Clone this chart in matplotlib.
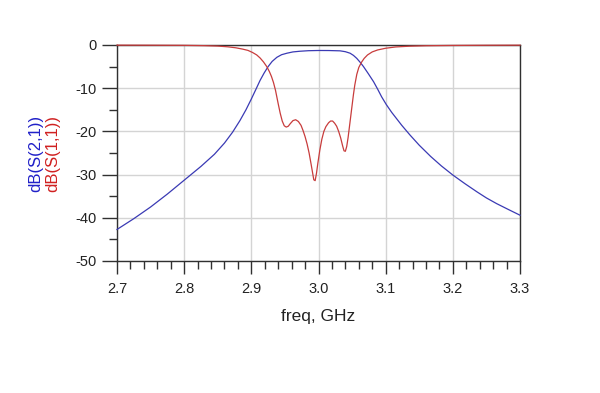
import matplotlib
matplotlib.use("Agg")
import matplotlib.pyplot as plt
from matplotlib.ticker import MultipleLocator

plt.rcParams['font.family'] = ['Liberation Sans', 'DejaVu Sans']

# S21 (blue)
freq_s21 = [2.700, 2.725, 2.750, 2.775, 2.800, 2.825, 2.845, 2.860, 2.872, 2.883,
            2.892, 2.900, 2.907, 2.913, 2.919, 2.925, 2.931, 2.938, 2.945, 2.953,
            2.962, 2.972, 2.985, 3.000, 3.015, 3.032, 3.040, 3.047, 3.052, 3.057,
            3.062, 3.067, 3.074, 3.082, 3.088, 3.094, 3.101, 3.109, 3.117, 3.124,
            3.136, 3.150, 3.167, 3.183, 3.200, 3.218, 3.236, 3.250, 3.265, 3.283,
            3.300]
db_s21 = [-42.7, -40.2, -37.5, -34.5, -31.3, -28.1, -25.3, -22.7, -20.2, -17.5,
          -15.0, -12.5, -10.2, -8.2, -6.5, -5.0, -3.8, -2.85, -2.25, -1.9,
          -1.6, -1.45, -1.32, -1.27, -1.28, -1.35, -1.55, -1.9, -2.4, -3.1,
          -4.0, -5.0, -6.6, -8.5, -10.2, -12.0, -13.8, -15.6, -17.2, -18.6,
          -20.8, -23.2, -25.8, -28.0, -30.1, -32.1, -34.0, -35.4, -36.7, -38.1,
          -39.4]

# S11 (red)
freq_s11 = [2.700, 2.750, 2.800, 2.830, 2.850, 2.865, 2.877, 2.887, 2.895, 2.902,
            2.908, 2.913, 2.918, 2.923, 2.927, 2.930, 2.933, 2.936, 2.940, 2.943,
            2.946, 2.949, 2.952, 2.955, 2.958, 2.962, 2.966, 2.970, 2.974, 2.977,
            2.980, 2.983, 2.986, 2.989, 2.991, 2.993, 2.995, 2.997, 2.999, 3.002,
            3.005, 3.008, 3.011, 3.015, 3.018, 3.021, 3.024, 3.027, 3.030, 3.033,
            3.036, 3.038, 3.040, 3.042, 3.044, 3.046, 3.048, 3.050, 3.052, 3.054,
            3.057, 3.060, 3.064, 3.068, 3.073, 3.080, 3.088, 3.100, 3.115, 3.135,
            3.160, 3.200, 3.250, 3.300]
db_s11 = [-0.03, -0.05, -0.08, -0.15, -0.25, -0.42, -0.65, -0.95, -1.25, -1.75,
          -2.3, -3.0, -3.9, -5.0, -6.2, -7.3, -8.7, -10.5, -13.6, -15.8,
          -17.6, -18.7, -19.0, -18.8, -18.2, -17.5, -17.3, -17.7, -18.6, -19.8,
          -21.2, -22.9, -25.0, -27.6, -29.4, -31.2, -31.4, -29.7, -27.4, -24.3,
          -21.8, -20.0, -18.9, -18.0, -17.6, -17.6, -18.1, -18.8, -20.0, -21.5,
          -23.4, -24.5, -24.6, -23.5, -21.5, -19.0, -16.5, -14.0, -11.5, -9.3,
          -6.8, -5.2, -4.0, -3.1, -2.3, -1.6, -1.15, -0.75, -0.45, -0.28,
          -0.17, -0.1, -0.06, -0.04]

x_major = [2.7, 2.8, 2.9, 3.0, 3.1, 3.2, 3.3]
x_labels = ['2.7', '2.8', '2.9', '3.0', '3.1', '3.2', '3.3']
y_major = [-50, -40, -30, -20, -10, 0]
y_labels = ['-50', '-40', '-30', '-20', '-10', '0']

fig = plt.figure(figsize=(6.0, 3.93), dpi=100)
ax = fig.add_axes([117/600, 1 - 261/393, 403/600, 216/393])

blue = '#3a3ab4'
red = '#c83c3c'
ax.plot(freq_s21, db_s21, color=blue, lw=0.9, zorder=3, clip_on=False)
ax.plot(freq_s11, db_s11, color=red, lw=0.9, zorder=4, clip_on=False)

ax.set_xlim(2.7, 3.3)
ax.set_ylim(-50, 0)
ax.set_xticks(x_major)
ax.set_xticklabels(x_labels)
ax.set_yticks(y_major)
ax.set_yticklabels(y_labels)
ax.xaxis.set_minor_locator(MultipleLocator(0.02))
ax.yaxis.set_minor_locator(MultipleLocator(5))

ax.grid(True, which='major', color='#d4d4d4', lw=1.0, zorder=0)
ax.set_axisbelow(True)

for s in ax.spines.values():
    s.set_color('#303030')
    s.set_linewidth(1.0)
    s.set_zorder(2.5)

ax.tick_params(axis='both', which='major', direction='out', color='#303030',
               labelsize=10.5, labelcolor='#222222')
ax.tick_params(axis='y', which='major', length=11, width=1.0, pad=4)
ax.tick_params(axis='y', which='minor', length=6, width=1.0, color='#303030')
ax.tick_params(axis='x', which='major', length=9, width=1.0, pad=6)
ax.tick_params(axis='x', which='minor', length=6, width=1.0, color='#303030')

fig.text(318/600, 1 - 316/393, 'freq, GHz', ha='center', va='center',
         fontsize=12.5, color='#222222')
fig.text(36/600, 1 - 153/393, 'dB(S(2,1))', ha='center', va='center',
         rotation=90, fontsize=12, color='#2020c8')
fig.text(53/600, 1 - 153/393, 'dB(S(1,1))', ha='center', va='center',
         rotation=90, fontsize=12, color='#d02020')

fig.savefig('out.png', dpi=100)
